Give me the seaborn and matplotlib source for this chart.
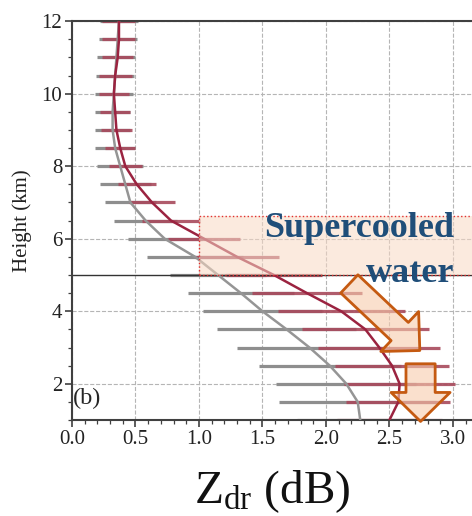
import numpy as np
import pandas as pd
import matplotlib
matplotlib.use("Agg")
import matplotlib.pyplot as plt
import seaborn as sns
from matplotlib.patches import Rectangle, FancyArrowPatch
from matplotlib.ticker import MultipleLocator

# ---------------- data ----------------
heights = [12.0, 11.5, 11.0, 10.5, 10.0, 9.5, 9.0, 8.5, 8.0, 7.5, 7.0, 6.5,
           6.0, 5.5, 5.0, 4.5, 4.0, 3.5, 3.0, 2.5, 2.0, 1.5, 1.0]
gray_mean = [0.37, 0.36, 0.35, 0.34, 0.33, 0.32, 0.32, 0.34, 0.38, 0.42, 0.46, 0.58,
             0.73, 0.97, 1.15, 1.33, 1.50, 1.69, 1.87, 2.03, 2.16, 2.25, 2.27]
gray_std = [0.15, 0.15, 0.15, 0.15, 0.15, 0.14, 0.14, 0.16, 0.18, 0.20, 0.20, 0.25,
            0.29, 0.38, 0.38, 0.42, 0.47, 0.55, 0.57, 0.56, 0.55, 0.62, 0.50]
red_mean = [0.37, 0.37, 0.36, 0.34, 0.33, 0.34, 0.35, 0.38, 0.42, 0.51, 0.63, 0.78,
            1.04, 1.30, 1.59, 1.85, 2.12, 2.31, 2.42, 2.52, 2.58, 2.57, 2.50]
red_std = [0.13, 0.13, 0.12, 0.13, 0.12, 0.12, 0.12, 0.12, 0.13, 0.15, 0.18, 0.23,
           0.28, 0.33, 0.38, 0.43, 0.50, 0.50, 0.48, 0.45, 0.44, 0.41, 0.41]

xticks = [0.0, 0.5, 1.0, 1.5, 2.0, 2.5, 3.0]
yticks = [2, 4, 6, 8, 10, 12]

df = pd.DataFrame({"h": heights, "g": gray_mean, "gs": gray_std,
                   "r": red_mean, "rs": red_std})

# ---------------- style ----------------
sns.set_style("ticks")
plt.rcParams["font.family"] = ["Liberation Serif", "DejaVu Serif"]
plt.rcParams["mathtext.fontset"] = "custom"
plt.rcParams["mathtext.rm"] = "Liberation Serif"
plt.rcParams["mathtext.it"] = "Liberation Serif:italic"

fig = plt.figure(figsize=(4.72, 5.16), dpi=100)
ax = fig.add_axes([0.1525, 0.186, 0.8475, 0.773])

gray_c = "#8e8e8e"

# error bars
ax.hlines(df["h"], df["g"] - df["gs"], df["g"] + df["gs"], color=gray_c,
          lw=2.3, zorder=2)
ax.hlines(df["h"], df["r"] - df["rs"], df["r"] + df["rs"], color="#a84a5c",
          lw=2.3, alpha=0.9, zorder=2.1)

# profiles
sns.lineplot(data=df, x="g", y="h", sort=False, orient="y", ax=ax,
             color="#959595", lw=1.8, zorder=3, solid_joinstyle="round")
sns.lineplot(data=df, x="r", y="h", sort=False, orient="y", ax=ax,
             color="#9b2340", lw=1.8, zorder=3.1, solid_joinstyle="round")

# melting layer line
ax.axhline(5.0, color="#333333", lw=1.0, zorder=2.5)

# supercooled box
rect = Rectangle((1.0, 5.0), 2.3, 1.63, facecolor="#f8d9c4", alpha=0.55,
                 edgecolor="none", zorder=4)
ax.add_patch(rect)
rect2 = Rectangle((1.0, 5.0), 2.3, 1.63, facecolor="none",
                  edgecolor="#e03030", lw=1.0, ls=":", zorder=4.1)
ax.add_patch(rect2)

ax.text(3.01, 6.06, "Supercooled", ha="right", va="baseline", fontsize=26,
        fontweight="bold", color="#1f4e79", zorder=6)
ax.text(3.01, 4.82, "water", ha="right", va="baseline", fontsize=26,
        fontweight="bold", color="#1f4e79", zorder=6)

# arrows
arr1 = FancyArrowPatch((2.184, 4.755), (2.739, 2.917),
                       arrowstyle="simple,head_length=19.9,head_width=39.6,tail_width=18",
                       mutation_scale=1, shrinkA=0, shrinkB=0,
                       facecolor=(0.97, 0.80, 0.68, 0.6), edgecolor="#c55a11",
                       lw=2.0, zorder=5, clip_on=False)
ax.add_patch(arr1)
arr2 = FancyArrowPatch((2.745, 2.551), (2.745, 0.96),
                       arrowstyle="simple,head_length=20.9,head_width=42.5,tail_width=21",
                       mutation_scale=1, shrinkA=0, shrinkB=0,
                       facecolor=(0.97, 0.80, 0.68, 0.6), edgecolor="#c55a11",
                       lw=2.0, zorder=5, clip_on=False)
ax.add_patch(arr2)

ax.text(0.008, 1.59, "(b)", ha="left", va="center", fontsize=17.5, zorder=6)

# axes
ax.set_xlim(0, 3.15)
ax.set_ylim(1, 12)
ax.set_xticks(xticks)
ax.set_yticks(yticks)
ax.xaxis.set_minor_locator(MultipleLocator(0.1))
ax.yaxis.set_minor_locator(MultipleLocator(0.5))
ax.grid(True, which="major", ls="--", color="#b5b5b5", lw=0.8)
ax.set_axisbelow(True)
for s in ["left", "bottom", "top"]:
    ax.spines[s].set_color("#404040")
    ax.spines[s].set_linewidth(1.5)
ax.spines["right"].set_visible(False)
ax.tick_params(axis="both", which="major", labelsize=15, length=5, width=1.2,
               color="#404040", labelcolor="#222222", pad=2)
ax.tick_params(axis="both", which="minor", length=3, width=0.9, color="#404040")
ax.set_xticklabels(["0.0", "0.5", "1.0", "1.5", "2.0", "2.5", "3.0"])
ax.set_ylabel("Height (km)", fontsize=15, labelpad=7, color="#222222")
ax.set_xlabel(r"$\mathrm{Z_{dr}}$ (dB)", fontsize=34, labelpad=14, color="#111111")

fig.savefig("out.png", dpi=100)
